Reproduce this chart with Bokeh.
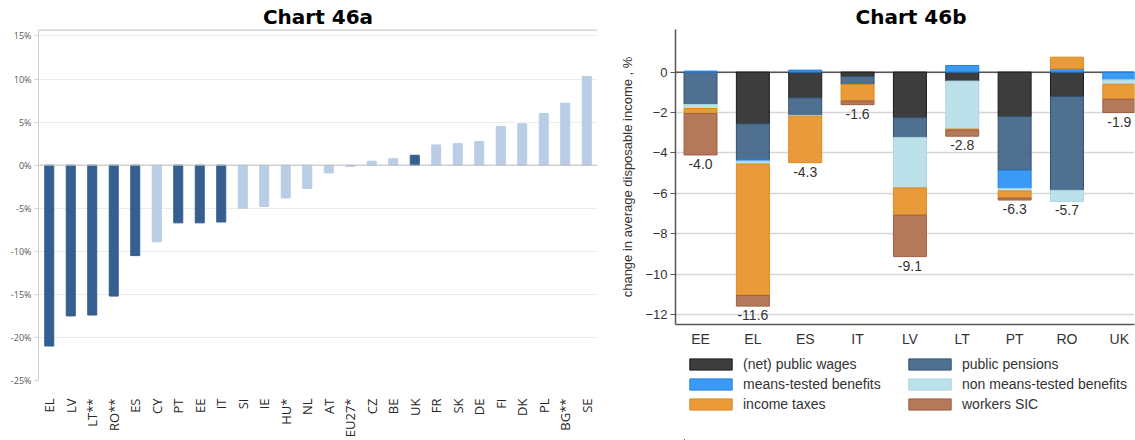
import math
import numpy as np
from bokeh.plotting import figure
from bokeh.layouts import row, column
from bokeh.models import (ColumnDataSource, FactorRange, Range1d, FixedTicker,
                          PrintfTickFormatter, Span, Legend, LegendItem)
from bokeh.core.properties import value
from bokeh.embed import file_html
from bokeh.resources import INLINE

# ---------------- data: Chart 46a ----------------
countries_a = ["EL", "LV", "LT**", "RO**", "ES", "CY", "PT", "EE", "IT", "SI", "IE", "HU*", "NL",
               "AT", "EU27*", "CZ", "BE", "UK", "FR", "SK", "DE", "FI", "DK", "PL", "BG**", "SE"]
change_a = [-21.0, -17.5, -17.4, -15.2, -10.5, -8.9, -6.7, -6.7, -6.6, -5.0, -4.8, -3.8, -2.7,
            -0.9, -0.15, 0.45, 0.75, 1.15, 2.35, 2.5, 2.75, 4.5, 4.8, 6.0, 7.2, 10.3]
highlight_a = [True, True, True, True, True, False, True, True, True, False, False, False, False,
               False, False, False, False, True, False, False, False, False, False, False, False, False]
yticks_a = [-25, -20, -15, -10, -5, 0, 5, 10, 15]

# ---------------- data: Chart 46b ----------------
countries_b = ["EE", "EL", "ES", "IT", "LV", "LT", "PT", "RO", "UK"]
public_wages = [0.0, -2.55, -1.27, -0.21, -2.25, -0.44, -2.19, -1.20, 0.0]
public_pensions = [-1.6, -1.78, -0.87, -0.40, -0.98, 0.0, -2.66, -4.65, 0.0]
means_tested = [0.05, -0.07, 0.10, 0.0, 0.0, 0.33, -0.90, 0.16, -0.38]
non_means_tested = [-0.20, -0.15, -0.04, 0.0, -2.50, -2.38, -0.13, -0.55, -0.22]
income_taxes = [-0.25, -6.50, -2.30, -0.82, -1.35, -0.05, -0.35, 0.58, -0.74]
workers_sic = [-2.05, -0.53, 0.0, -0.18, -2.05, -0.30, -0.10, 0.0, -0.66]
totals_b = [-4.0, -11.6, -4.3, -1.6, -9.1, -2.8, -6.3, -5.7, -1.9]
series_names = ["(net) public wages", "public pensions", "means-tested benefits",
                "non means-tested benefits", "income taxes", "workers SIC"]
yticks_b = [-12, -10, -8, -6, -4, -2, 0]


def no_frame_align(p):
    try:
        p.frame_align = False
    except Exception:
        pass


def style_title(p, text):
    p.title.text = text
    p.title.text_font = "DejaVu Sans"
    p.title.text_font_style = "bold"
    p.title.text_font_size = "20px"
    p.title.text_color = "#000000"
    p.title.standoff = 1


# ---------------- Chart 46a ----------------
DARK, LIGHT = "#355f90", "#b9cde5"
src_a = ColumnDataSource(dict(country=countries_a, change=change_a,
                              color=[DARK if h else LIGHT for h in highlight_a]))

pa = figure(width=605, height=440, x_range=FactorRange(factors=countries_a),
            y_range=Range1d(-25, 15.75), output_backend="svg", toolbar_location=None,
            min_border_left=38, min_border_right=8, min_border_top=29, min_border_bottom=57)
no_frame_align(pa)
style_title(pa, "Chart 46a")
pa.title.align = "center"
pa.outline_line_color = None

pa.vbar(x="country", top="change", width=0.42, fill_color="color", line_color="color",
        source=src_a)
pa.add_layout(Span(location=0, dimension="width", line_color="#bfbfbf", line_width=1))
pa.add_layout(Span(location=15.7, dimension="width", line_color="#a6a6a6", line_width=1))

pa.xgrid.grid_line_color = None
pa.ygrid.ticker = FixedTicker(ticks=yticks_a)
pa.ygrid.grid_line_color = "#d9d9d9"
pa.ygrid.grid_line_dash = "1 1"
pa.yaxis.ticker = FixedTicker(ticks=yticks_a)
pa.yaxis.formatter = PrintfTickFormatter(format="%d%%")
pa.yaxis.major_label_text_font = "Open Sans"
pa.yaxis.major_label_text_font_size = "9px"
pa.yaxis.major_label_text_color = "#595959"
pa.yaxis.axis_line_color = "#d0d0d0"
pa.yaxis.major_tick_line_color = "#d0d0d0"
pa.yaxis.major_tick_out = 4
pa.yaxis.major_tick_in = 0
pa.yaxis.minor_tick_line_color = None
pa.yaxis.major_label_standoff = 3
pa.xaxis.major_label_orientation = math.pi / 2
pa.xaxis.major_label_text_font = "Open Sans"
pa.xaxis.major_label_text_font_size = "13px"
pa.xaxis.major_label_text_color = "#262626"
pa.xaxis.axis_line_color = None
pa.xaxis.major_tick_line_color = None
pa.xaxis.major_label_standoff = 12

# ---------------- Chart 46b ----------------
pb = figure(width=530, height=349, x_range=Range1d(-0.478, 8.29), y_range=Range1d(-12.49, 2.11),
            output_backend="svg", toolbar_location=None,
            min_border_left=70, min_border_right=1, min_border_top=29, min_border_bottom=22)
no_frame_align(pb)
style_title(pb, "Chart 46b")
pb.title.align = "left"
pb.title.offset = 180
pb.outline_line_color = None

fills = ["#333333", "#46688a", "#2f95f5", "#b8dfe9", "#e8962e", "#b07252"]
lines = ["#1a1a1a", "#34506c", "#1f80e0", "#a9d5e2", "#dc8a22", "#9c6044"]

pb.add_layout(Span(location=0, dimension="width", line_color="#555555", line_width=1.5,
                   level="underlay"))

# legend panel below the chart (its view range lies away from the data, so only the legend shows)
pl = figure(width=530, height=91, x_range=Range1d(100, 101), y_range=Range1d(100, 101),
            output_backend="svg", toolbar_location=None, x_axis_location=None,
            y_axis_location=None, min_border_left=79, min_border_right=1, min_border_top=7,
            min_border_bottom=1)
no_frame_align(pl)
pl.outline_line_color = None
pl.grid.visible = False

idx = np.arange(len(countries_b))
pos_cum = np.zeros(len(countries_b))
neg_cum = np.zeros(len(countries_b))
legend_renderers = {}
for name, vals, fc, lc in zip(series_names,
                              [public_wages, public_pensions, means_tested, non_means_tested,
                               income_taxes, workers_sic], fills, lines):
    arr = np.array(vals, dtype=float)
    top = np.where(arr >= 0, pos_cum + arr, neg_cum)
    bottom = np.where(arr >= 0, pos_cum, neg_cum + arr)
    keep = arr != 0
    src = ColumnDataSource(dict(x=idx[keep], top=top[keep], bottom=bottom[keep]))
    pb.vbar(x="x", top="top", bottom="bottom", width=0.63, fill_color=fc,
            line_color=lc, line_width=1, fill_alpha=0.95, source=src)
    legend_renderers[name] = pl.vbar(x="x", top="top", bottom="bottom", width=0.63,
                                     fill_color=fc, line_color=lc, line_width=1,
                                     fill_alpha=0.95, source=src)
    pos_cum = pos_cum + np.where(arr > 0, arr, 0)
    neg_cum = neg_cum + np.where(arr < 0, arr, 0)

lbl_src = ColumnDataSource(dict(x=idx, y=neg_cum, text=["%.1f" % t for t in totals_b]))
pb.text(x="x", y="y", text="text", source=lbl_src, text_align="center", text_baseline="top",
        y_offset=4, text_font=value("Liberation Sans"), text_font_size="14px",
        text_color="#333333")

pb.xgrid.grid_line_color = None
pb.ygrid.ticker = FixedTicker(ticks=yticks_b)
pb.ygrid.grid_line_color = "#d6d6d6"
pb.ygrid.grid_line_width = 1.5
pb.yaxis.ticker = FixedTicker(ticks=yticks_b)
pb.yaxis.axis_label = "change in average disposable income , %"
pb.yaxis.axis_label_text_font = "Liberation Sans"
pb.yaxis.axis_label_text_font_style = "normal"
pb.yaxis.axis_label_text_font_size = "13px"
pb.yaxis.axis_label_text_color = "#333333"
pb.yaxis.axis_label_standoff = 7
pb.yaxis.major_label_text_font = "Liberation Sans"
pb.yaxis.major_label_text_font_size = "13px"
pb.yaxis.major_label_text_color = "#333333"
pb.yaxis.axis_line_color = "#555555"
pb.yaxis.axis_line_width = 1.5
pb.yaxis.major_tick_line_color = "#555555"
pb.yaxis.major_tick_out = 5
pb.yaxis.major_tick_in = 0
pb.yaxis.minor_tick_line_color = None
pb.yaxis.major_label_standoff = 3

pb.xaxis.ticker = FixedTicker(ticks=list(range(len(countries_b))))
pb.xaxis.major_label_overrides = {i: c for i, c in enumerate(countries_b)}
pb.xaxis.major_label_text_font = "Liberation Sans"
pb.xaxis.major_label_text_font_size = "14px"
pb.xaxis.major_label_text_color = "#333333"
pb.xaxis.axis_line_color = "#555555"
pb.xaxis.axis_line_width = 1.5
pb.xaxis.major_tick_line_color = None
pb.xaxis.minor_tick_line_color = None
pb.xaxis.major_label_standoff = 0


def make_legend(names, loc):
    return Legend(items=[LegendItem(label=n, renderers=[legend_renderers[n]]) for n in names],
                  location=loc, glyph_width=53, glyph_height=14, label_height=14, spacing=4,
                  label_standoff=6, padding=0, margin=0,
                  label_text_font="Liberation Sans", label_text_font_size="14px",
                  label_text_color="#333333", border_line_color=None,
                  background_fill_alpha=0)


pl.add_layout(make_legend([series_names[0], series_names[2], series_names[4]], "top_left"))
pl.add_layout(make_legend([series_names[1], series_names[3], series_names[5]], (219, 27)))

layout = row(pa, column(pb, pl))
open("out.html", "w").write(file_html(layout, INLINE))
